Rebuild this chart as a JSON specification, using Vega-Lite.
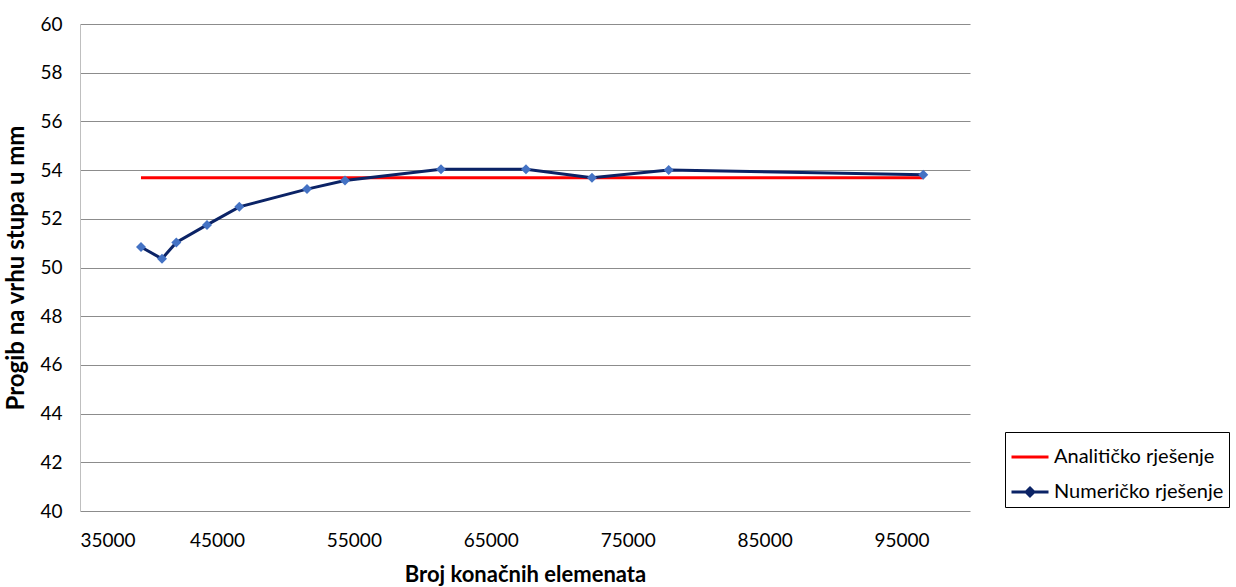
{
  "$schema": "https://vega.github.io/schema/vega-lite/v6.json",
  "width": 890,
  "height": 487,
  "autosize": {"type": "none"},
  "padding": {"left": 80, "top": 24, "right": 266, "bottom": 76},
  "background": "white",
  "config": {
    "view": {"stroke": null},
    "font": "Lato",
    "axis": {"labelFont": "Lato", "titleFont": "Lato", "labelColor": "#000", "titleColor": "#000"}
  },
  "data": {
    "values": [
      {"series": "Analitičko rješenje", "n": 39455, "v": 53.69},
      {"series": "Analitičko rješenje", "n": 40988, "v": 53.69},
      {"series": "Analitičko rješenje", "n": 42033, "v": 53.69},
      {"series": "Analitičko rješenje", "n": 44275, "v": 53.69},
      {"series": "Analitičko rješenje", "n": 46634, "v": 53.69},
      {"series": "Analitičko rješenje", "n": 51578, "v": 53.69},
      {"series": "Analitičko rješenje", "n": 54353, "v": 53.69},
      {"series": "Analitičko rješenje", "n": 61364, "v": 53.69},
      {"series": "Analitičko rješenje", "n": 67571, "v": 53.69},
      {"series": "Analitičko rješenje", "n": 72391, "v": 53.69},
      {"series": "Analitičko rješenje", "n": 77993, "v": 53.69},
      {"series": "Analitičko rješenje", "n": 96586, "v": 53.69},
      {"series": "Numeričko rješenje", "n": 39455, "v": 50.84},
      {"series": "Numeričko rješenje", "n": 40988, "v": 50.36},
      {"series": "Numeričko rješenje", "n": 42033, "v": 51.03},
      {"series": "Numeričko rješenje", "n": 44275, "v": 51.75},
      {"series": "Numeričko rješenje", "n": 46634, "v": 52.49},
      {"series": "Numeričko rješenje", "n": 51578, "v": 53.22},
      {"series": "Numeričko rješenje", "n": 54353, "v": 53.57},
      {"series": "Numeričko rješenje", "n": 61364, "v": 54.03},
      {"series": "Numeričko rješenje", "n": 67571, "v": 54.03},
      {"series": "Numeričko rješenje", "n": 72391, "v": 53.69},
      {"series": "Numeričko rješenje", "n": 77993, "v": 54.0},
      {"series": "Numeričko rješenje", "n": 96586, "v": 53.81}
    ]
  },
  "encoding": {
    "x": {
      "field": "n", "type": "quantitative",
      "scale": {"domain": [35000, 100000], "nice": false, "zero": false},
      "axis": {
        "title": "Broj konačnih elemenata",
        "values": [35000, 45000, 55000, 65000, 75000, 85000, 95000],
        "format": "d",
        "grid": false, "ticks": false, "domain": false,
        "labelFontSize": 19, "labelPadding": 20,
        "titleFontSize": 22, "titleFontWeight": "bold", "titlePadding": 14
      }
    },
    "y": {
      "field": "v", "type": "quantitative",
      "scale": {"domain": [40, 60], "nice": false, "zero": false},
      "axis": {
        "title": "Progib na vrhu stupa u mm",
        "values": [40, 42, 44, 46, 48, 50, 52, 54, 56, 58, 60],
        "grid": true, "gridColor": "#8c8c8c", "gridWidth": 1,
        "ticks": false, "domain": true, "domainColor": "#bfbfbf", "domainWidth": 1,
        "labelFontSize": 19, "labelPadding": 18,
        "titleFontSize": 24, "titleFontWeight": "bold", "titlePadding": 11
      }
    }
  },
  "layer": [
    {
      "mark": {"type": "line", "strokeWidth": 3},
      "encoding": {
        "color": {
          "field": "series", "type": "nominal",
          "scale": {"domain": ["Analitičko rješenje", "Numeričko rješenje"], "range": ["#ff0000", "#0b2366"]},
          "legend": {
            "title": null,
            "orient": "none",
            "legendX": 925,
            "legendY": 408,
            "labelFontSize": 20,
            "labelFont": "Lato",
            "labelColor": "#000",
            "labelOffset": 4,
            "symbolSize": 1369,
            "symbolStrokeWidth": 3,
            "rowPadding": 5,
            "padding": 5,
            "strokeColor": "#000",
            "fillColor": "white",
            "labelLimit": 300,
            "symbolOffset": 0,
            "encode": {
              "symbols": {
                "update": {
                  "shape": {"signal": "datum.value === 'Numeričko rješenje' ? 'M-1,0L1,0M0,-0.21L0.21,0L0,0.21L-0.21,0Z' : 'M-1,0L1,0'"},
                  "fill": {"signal": "datum.value === 'Numeričko rješenje' ? '#4472c4' : 'transparent'"},
                  "fillOpacity": {"value": 1}
                }
              }
            }
          }
        }
      }
    },
    {
      "transform": [{"filter": "datum.series === 'Numeričko rješenje'"}],
      "mark": {"type": "point", "shape": "diamond", "filled": true, "color": "#4472c4", "size": 100, "opacity": 1}
    }
  ]
}
